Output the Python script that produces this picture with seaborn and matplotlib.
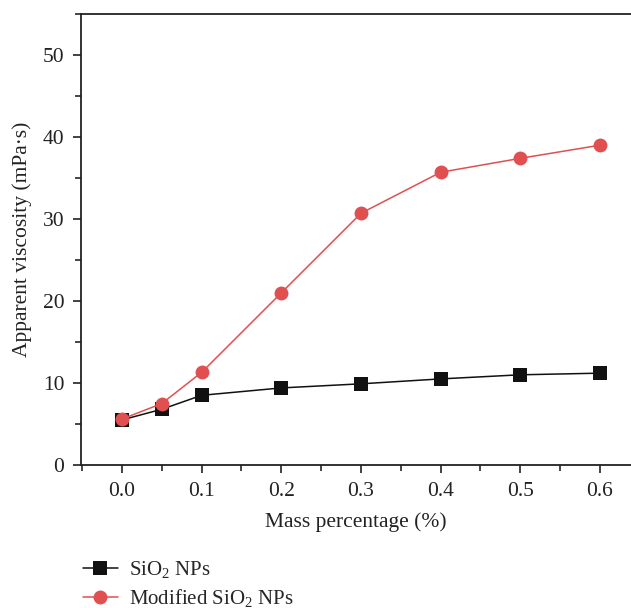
import matplotlib
matplotlib.use("Agg")
import matplotlib.pyplot as plt
import seaborn as sns
import pandas as pd
from matplotlib.ticker import MultipleLocator

mass = [0.0, 0.05, 0.1, 0.2, 0.3, 0.4, 0.5, 0.6]
sio2 = [5.5, 6.8, 8.5, 9.4, 9.9, 10.5, 11.0, 11.2]
modified = [5.6, 7.5, 11.3, 21.0, 30.7, 35.7, 37.4, 39.0]
labels = ["SiO$_2$ NPs", "Modified SiO$_2$ NPs"]

sns.set_theme(style="ticks")
plt.rcParams['font.family'] = ['Liberation Serif', 'DejaVu Serif']
plt.rcParams['mathtext.fontset'] = 'custom'
plt.rcParams['mathtext.rm'] = 'Liberation Serif'
plt.rcParams['mathtext.it'] = 'Liberation Serif:italic'

df = pd.DataFrame({"x": mass * 2, "y": sio2 + modified,
                   "series": [labels[0]] * len(mass) + [labels[1]] * len(mass)})

fig = plt.figure(figsize=(6.31, 6.08), dpi=100)
ax = fig.add_axes([81/631, (608-465)/608, 550/631, (465-14)/608])

sns.lineplot(data=df, x="x", y="y", hue="series", style="series",
             palette={labels[0]: "#111111", labels[1]: "#e05050"},
             markers={labels[0]: "s", labels[1]: "o"}, dashes=False,
             markersize=10, markeredgewidth=0, linewidth=1.1, ax=ax)

ax.set_xlim(-0.0515, 0.639)
ax.set_ylim(0, 55)
ax.set_xticks([0.0, 0.1, 0.2, 0.3, 0.4, 0.5, 0.6])
ax.set_xticklabels(["0.0", "0.1", "0.2", "0.3", "0.4", "0.5", "0.6"])
ax.xaxis.set_minor_locator(MultipleLocator(0.05))
ax.yaxis.set_major_locator(MultipleLocator(10))
ax.yaxis.set_minor_locator(MultipleLocator(5))
ax.tick_params(axis="both", which="major", direction="out", length=6, width=1.2,
               labelsize=15.5, colors="#222222", pad=6)
ax.tick_params(axis="both", which="minor", direction="out", length=4, width=1.2)
for s in ["left", "bottom", "top"]:
    ax.spines[s].set_visible(True)
    ax.spines[s].set_linewidth(1.3)
    ax.spines[s].set_color("#222222")
ax.spines["right"].set_visible(False)

ax.set_xlabel("Mass percentage (%)", fontsize=15.5, color="#222222", labelpad=8)
ax.set_ylabel("Apparent viscosity (mPa·s)", fontsize=15.5, color="#222222", labelpad=8)

ax.legend(loc="upper left", bbox_to_anchor=(-0.012, -0.19), frameon=False,
          fontsize=15, handlelength=1.7, handletextpad=0.5, labelspacing=0.35,
          borderaxespad=0, title=None)

fig.savefig("out.png", dpi=100)
